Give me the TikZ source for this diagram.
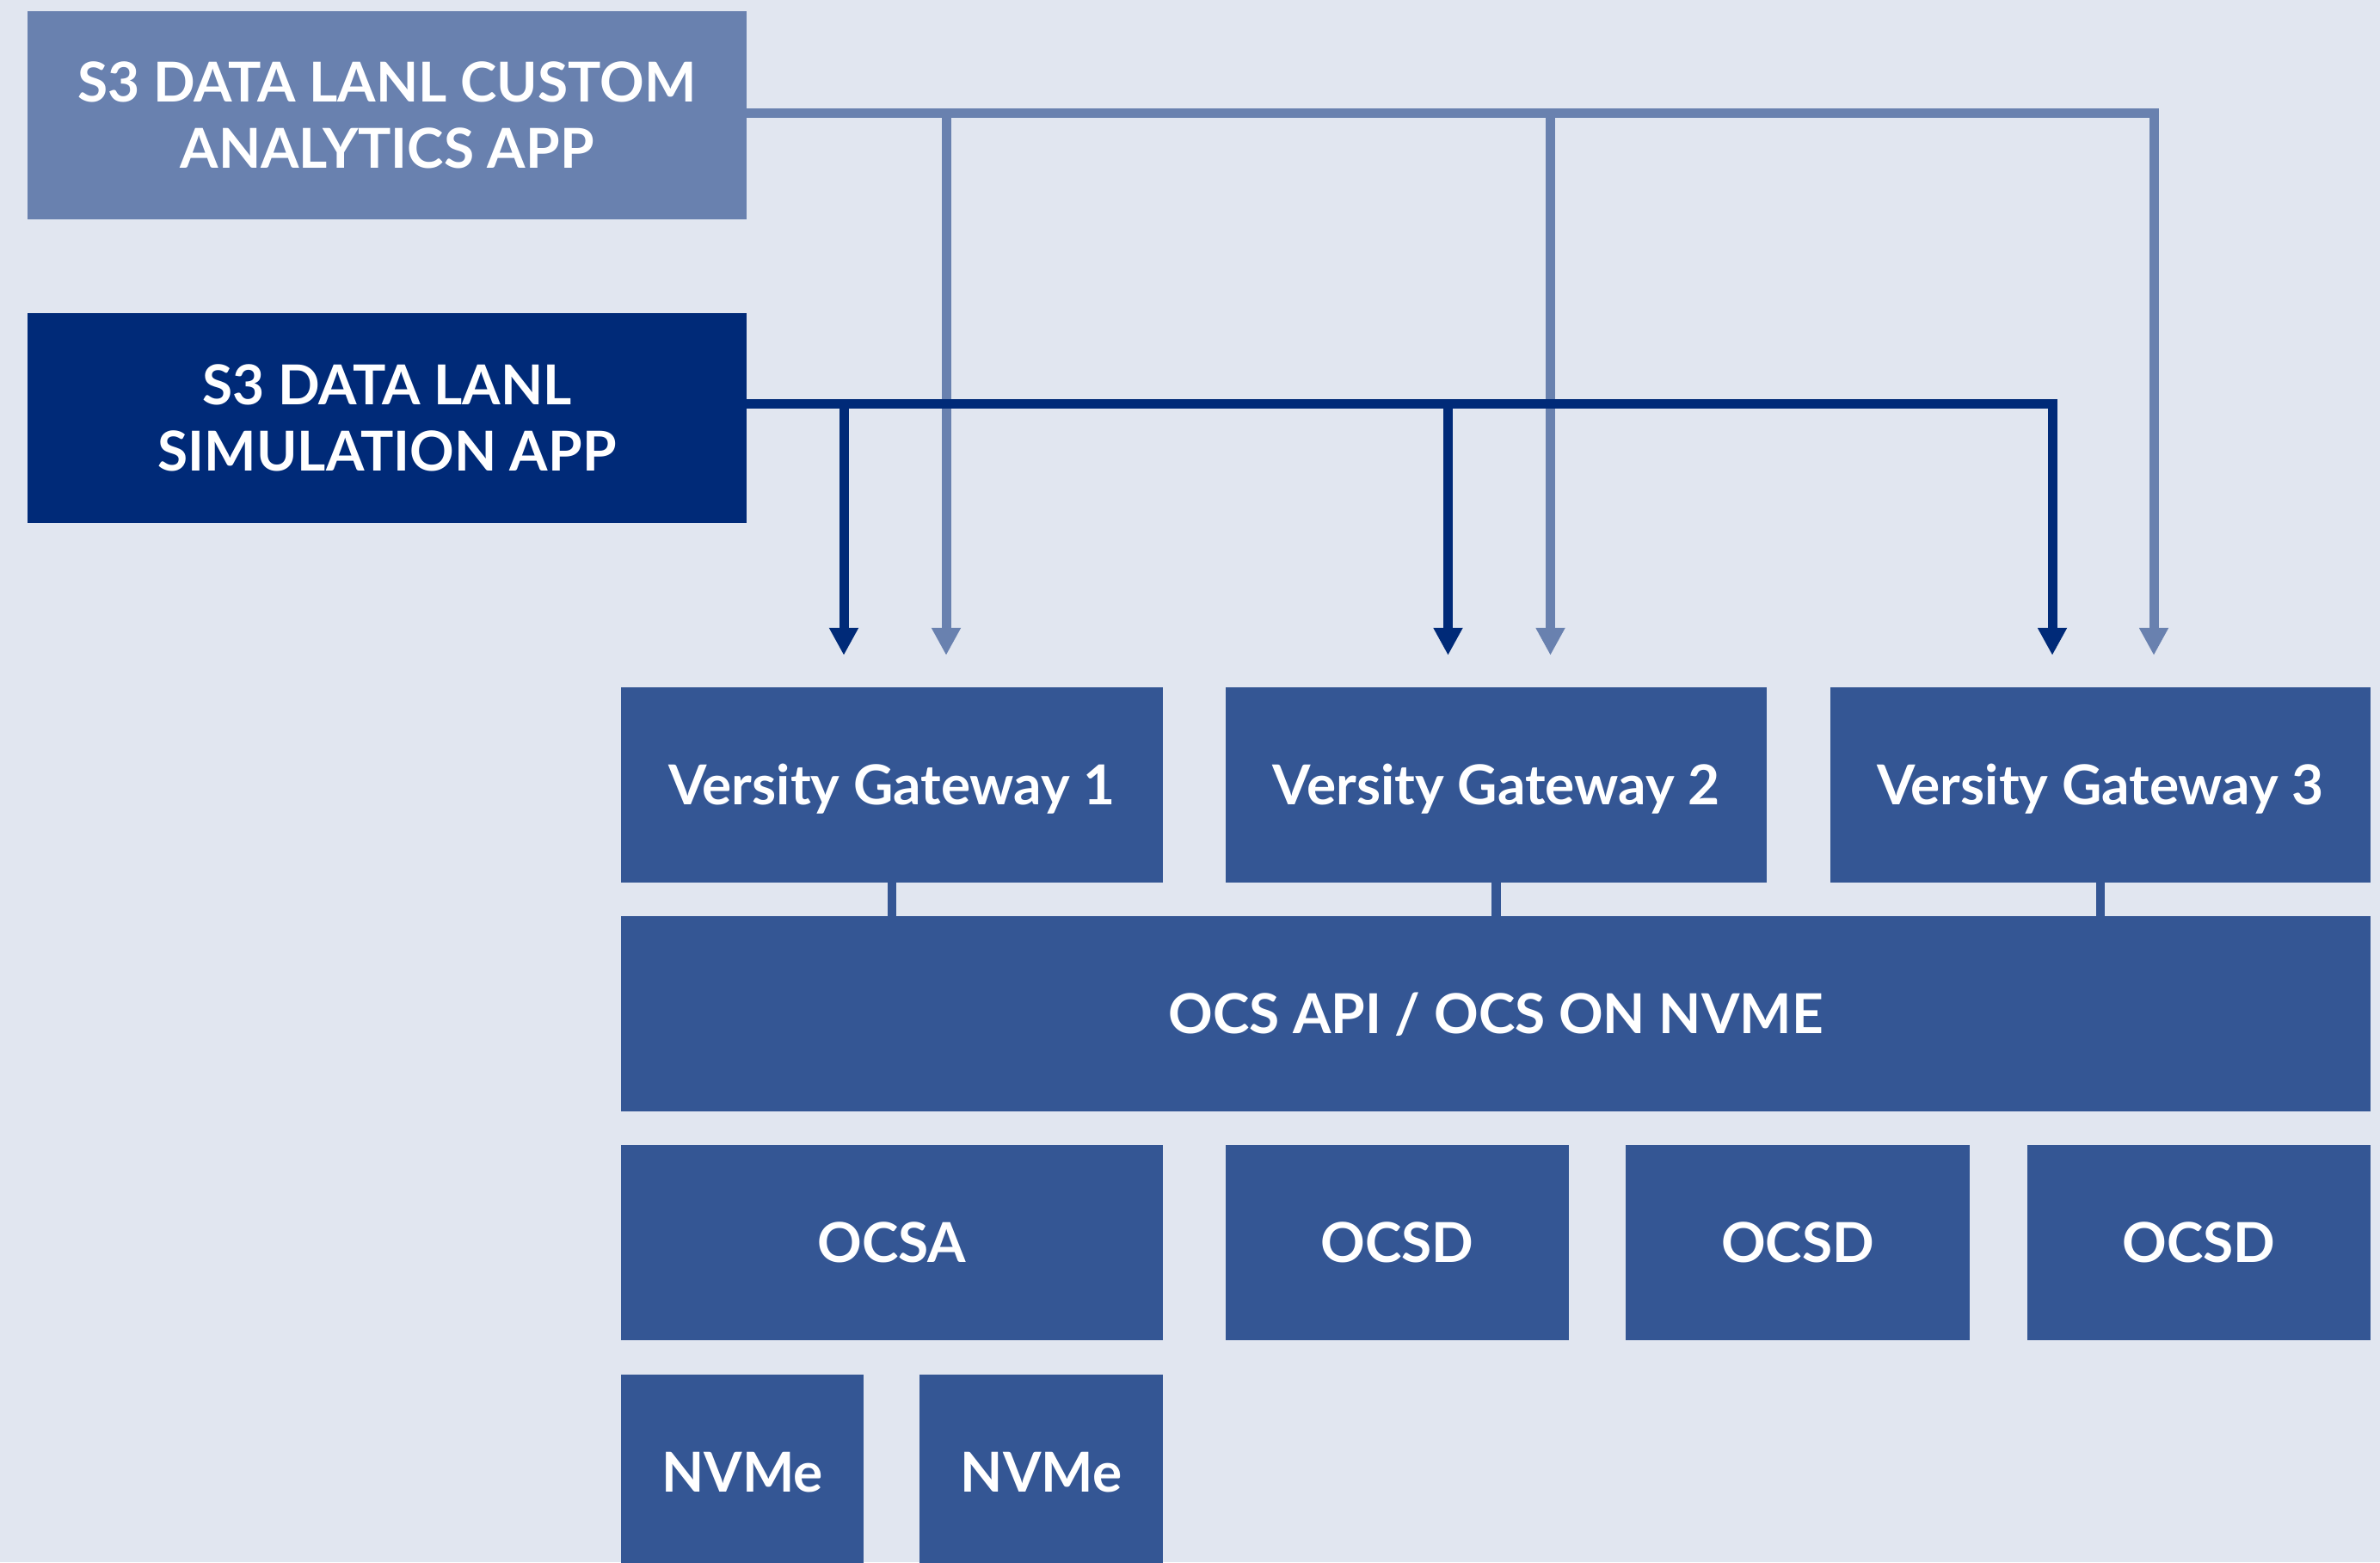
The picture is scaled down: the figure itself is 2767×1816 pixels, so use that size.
\documentclass[tikz,border=0pt]{standalone}
\usepackage{fontspec}
\setmainfont{Lato}
\usetikzlibrary{arrows.meta,calc}
\definecolor{bgc}{HTML}{E1E6F0}
\definecolor{lightc}{HTML}{6981AF}
\definecolor{navyc}{HTML}{002A78}
\definecolor{gwc}{HTML}{345694}
\begin{document}
\begin{tikzpicture}[x=1pt,y=-1pt,
  box/.style={fill=gwc, draw=none, inner sep=0pt, text=white, align=center,
    font=\fontsize{64}{77}\selectfont\bfseries, minimum height=227pt},
  one/.style={text height=46pt, text depth=0pt},
  conA/.style={draw=lightc, line width=11pt, -{Triangle[width=32pt,length=32pt]}, shorten >=37pt},
  conB/.style={draw=navyc, line width=11pt, -{Triangle[width=32pt,length=32pt]}, shorten >=37pt},
  stub/.style={draw=gwc, line width=10.5pt}]
\clip (0,0) rectangle (2767,1816);
\fill[bgc] (0,0) rectangle (2767,1816);

\node[box, fill=lightc, minimum width=836pt, minimum height=242pt] (A) at (450,134) {S3 DATA LANL CUSTOM\\ANALYTICS APP};
\node[box, fill=navyc, minimum width=836pt, minimum height=244pt] (B) at (450,486) {S3 DATA LANL\\SIMULATION APP};

\node[box, one, minimum width=630pt] (G1) at (1037,912.5) {Versity Gateway 1};
\node[box, one, minimum width=629pt] (G2) at (1739.5,912.5) {Versity Gateway 2};
\node[box, one, minimum width=628pt] (G3) at (2442,912.5) {Versity Gateway 3};

\node[box, one, minimum width=2034pt] (OCS) at (1739,1178.5) {OCS API / OCS ON NVME};

\node[box, one, minimum width=630pt] (OA) at (1037,1444.5) {OCSA};
\node[box, one, minimum width=399pt] (OD1) at (1624.5,1444.5) {OCSD};
\node[box, one, minimum width=400pt] (OD2) at (2090,1444.5) {OCSD};
\node[box, one, minimum width=399pt] (OD3) at (2556.5,1444.5) {OCSD};

\node[box, one, minimum width=282pt] (N1) at (863,1711) {NVMe};
\node[box, one, minimum width=283pt] (N2) at (1210.5,1711) {NVMe};

% analytics connectors
\draw[conA] ([yshift=2.5pt]A.east) -| ($(G3.north)+(62,0)$);
\draw[conA] ([yshift=2.5pt]A.east) -| ($(G2.north)+(63,0)$);
\draw[conA] ([yshift=2.5pt]A.east) -| ($(G1.north)+(63,0)$);
% simulation connectors
\draw[conB] ([yshift=17pt]B.east) -| ($(G3.north)+(-56,0)$);
\draw[conB] ([yshift=17pt]B.east) -| ($(G2.north)+(-56,0)$);
\draw[conB] ([yshift=17pt]B.east) -| ($(G1.north)+(-56,0)$);

% gateway to OCS stubs
\draw[stub] (G1.south) -- (G1.south |- OCS.north);
\draw[stub] (G2.south) -- (G2.south |- OCS.north);
\draw[stub] (G3.south) -- (G3.south |- OCS.north);
\end{tikzpicture}
\end{document}
